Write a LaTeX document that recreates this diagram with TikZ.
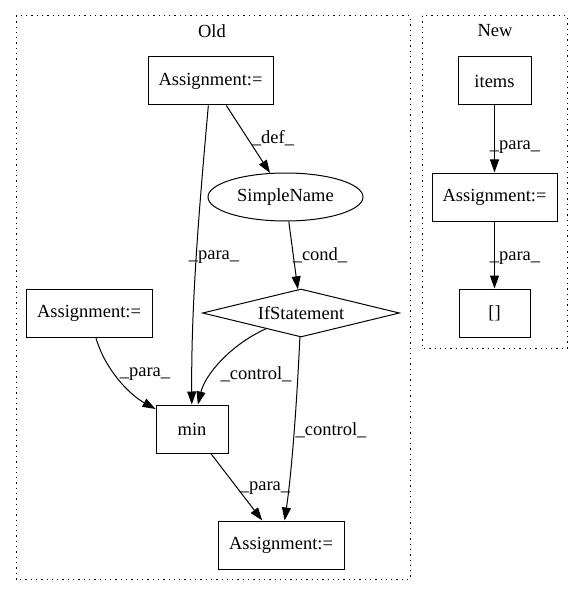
\documentclass[tikz,border=0pt]{standalone}
\usepackage{fontspec}
\setmainfont{Liberation Serif}
\usepackage{tikz}
\usetikzlibrary{shapes.geometric,arrows.meta}

\begin{document}
\begin{tikzpicture}[x=1pt,y=-1pt,line width=1pt,
  box/.style={draw,rectangle,inner sep=0pt,minimum height=48pt},
  ell/.style={draw,ellipse,inner sep=0pt,minimum width=155pt,minimum height=48pt},
  cond/.style={draw,diamond,aspect=4.1,inner sep=0pt,minimum width=197pt,minimum height=48pt},
  edge/.style={-{Triangle[length=13pt,width=9pt]}},
  lab/.style={inner sep=0pt}]
\fontsize{18.5}{22}\selectfont
\useasboundingbox (0,0) rectangle (584,596);

% clusters
\draw [dash pattern=on 1.3pt off 4pt] (16,16) rectangle (410,579);
\draw [dash pattern=on 1.3pt off 4pt] (422,16) rectangle (567,348);
\node (old) at (212,31) {Old};
\node (new) at (495,31) {New};

% old
\node [box,minimum width=125pt] (asgtop) at (210.5,81) {Assignment:=};
\node [ell] (sname) at (285.5,197) {SimpleName};
\node [cond] (ifst) at (301,313) {IfStatement};
\node [box,minimum width=126pt] (asgleft) at (89,313) {Assignment:=};
\node [box,minimum width=72pt] (minf) at (192,429) {min};
\node [box,minimum width=126pt] (asgbot) at (281,545) {Assignment:=};

% new
\node [box,minimum width=73pt] (items) at (494.5,81) {items};
\node [box,minimum width=125pt] (asgnew) at (494.5,197) {Assignment:=};
\node [box,minimum width=71pt] (brack) at (494.5,313) {[]};

\draw [edge] (asgtop) -- (sname);
\draw [edge] (sname) -- (ifst);
\draw [edge] (asgtop) .. controls (200,200) and (191,300) .. (minf);
\draw [edge] (ifst) .. controls (230,345) and (205,375) .. (minf);
\draw [edge] (asgleft) .. controls (105,370) and (130,395) .. (minf);
\draw [edge] (ifst) .. controls (297,400) and (292,470) .. (asgbot);
\draw [edge] (minf) -- (asgbot);
\draw [edge] (items) -- (asgnew);
\draw [edge] (asgnew) -- (brack);

\node [lab] (ldef) at (273,138) {\_def\_};
\node [lab] (lpara1) at (214,257) {\_para\_};
\node [lab] (lcond) at (320,255) {\_cond\_};
\node [lab] (lpara2) at (145,374) {\_para\_};
\node [lab] (lctrl1) at (256,374) {\_control\_};
\node [lab] (lctrl2) at (331,430) {\_control\_};
\node [lab] (lpara3) at (265,488) {\_para\_};
\node [lab] (lpara4) at (515,147) {\_para\_};
\node [lab] (lpara5) at (515,258) {\_para\_};
\end{tikzpicture}
\end{document}
